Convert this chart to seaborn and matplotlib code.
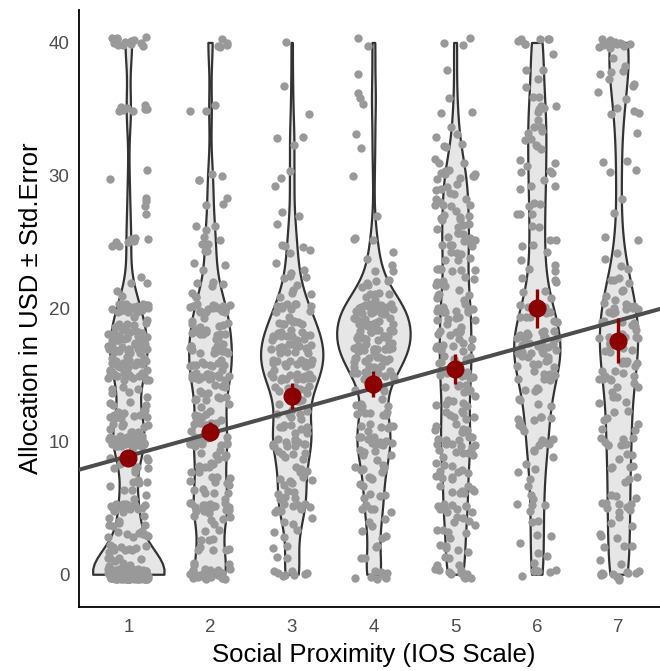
import numpy as np
import pandas as pd
import matplotlib
matplotlib.use("Agg")
import matplotlib.pyplot as plt
import seaborn as sns

# ---------------- data ----------------
ios_levels = [1, 2, 3, 4, 5, 6, 7]

g1_values = [0, 1, 2, 3, 4, 5, 6, 7, 8, 9, 10, 11, 12, 13, 14, 15, 16, 17, 18, 19, 20, 21, 22, 25, 27, 28, 30, 35, 40]
g1_counts = [140, 8, 10, 9, 7, 22, 4, 5, 6, 5, 40, 10, 14, 5, 5, 22, 18, 24, 22, 8, 24, 2, 3, 8, 1, 3, 2, 9, 14]

g2_values = [0, 1, 2, 3, 4, 5, 6, 7, 8, 9, 10, 11, 12, 13, 14, 15, 16, 17, 18, 19, 20, 21, 22, 23, 24, 25, 26, 28, 30, 35, 40]
g2_counts = [28, 3, 5, 5, 5, 20, 6, 7, 8, 6, 16, 7, 7, 8, 7, 16, 10, 14, 12, 7, 16, 3, 4, 3, 2, 5, 3, 3, 4, 3, 5]

g3_values = [0, 1, 2, 3, 4, 5, 6, 7, 8, 9, 10, 11, 12, 13, 14, 15, 16, 17, 18, 19, 20, 21, 22, 23, 24, 25, 26, 27, 29, 30, 32, 33, 35, 37, 40]
g3_counts = [8, 2, 2, 3, 3, 9, 6, 6, 6, 6, 13, 8, 7, 7, 8, 16, 14, 16, 14, 9, 10, 4, 4, 3, 2, 3, 1, 2, 1, 2, 1, 2, 1, 1, 1]

g4_values = [0, 1, 2, 3, 4, 5, 6, 7, 8, 9, 10, 11, 12, 13, 14, 15, 16, 17, 18, 19, 20, 21, 22, 23, 24, 25, 27, 30, 32, 33, 35, 36, 38, 40]
g4_counts = [9, 2, 2, 3, 3, 6, 4, 5, 6, 6, 12, 7, 7, 5, 4, 12, 14, 20, 20, 14, 24, 6, 6, 3, 2, 3, 1, 1, 1, 1, 1, 2, 1, 2]

g5_values = [0, 1, 2, 3, 4, 5, 6, 7, 8, 9, 10, 11, 12, 13, 14, 15, 16, 17, 18, 19, 20, 21, 22, 23, 24, 25, 26, 27, 28, 29, 30, 31, 32, 33, 34, 35, 36, 38, 40]
g5_counts = [11, 4, 5, 5, 5, 10, 6, 6, 7, 7, 12, 7, 7, 7, 7, 11, 8, 9, 9, 7, 12, 6, 7, 6, 6, 10, 7, 7, 7, 6, 10, 3, 3, 2, 1, 2, 1, 1, 3]

g6_values = [0, 1, 2, 3, 4, 5, 6, 7, 8, 9, 10, 11, 12, 13, 14, 15, 16, 17, 18, 19, 20, 21, 22, 23, 24, 25, 26, 27, 28, 29, 30, 31, 32, 33, 34, 35, 36, 37, 38, 39, 40]
g6_counts = [6, 2, 2, 2, 2, 4, 2, 2, 3, 3, 6, 4, 5, 4, 4, 9, 9, 12, 12, 6, 7, 3, 3, 3, 2, 4, 2, 3, 3, 3, 4, 3, 3, 4, 3, 5, 2, 2, 2, 1, 7]

g7_values = [0, 1, 2, 3, 4, 5, 6, 7, 8, 9, 10, 11, 12, 13, 14, 15, 16, 17, 18, 19, 20, 21, 22, 23, 24, 25, 27, 28, 30, 31, 33, 35, 36, 37, 38, 39, 40]
g7_counts = [12, 2, 3, 3, 3, 8, 3, 3, 4, 3, 9, 3, 4, 4, 4, 9, 6, 8, 8, 6, 12, 4, 4, 2, 2, 2, 1, 1, 2, 2, 1, 4, 2, 3, 4, 1, 14]

group_values = [g1_values, g2_values, g3_values, g4_values, g5_values, g6_values, g7_values]
group_counts = [g1_counts, g2_counts, g3_counts, g4_counts, g5_counts, g6_counts, g7_counts]

mean_alloc = [8.77, 10.73, 13.42, 14.30, 15.43, 20.00, 17.58]
se_alloc = [0.45, 0.73, 0.97, 1.00, 1.10, 1.45, 1.70]

reg_intercept = 7.19
reg_slope = 1.70

# ---------------- build long table ----------------
rows_x, rows_y = [], []
for lvl, vals, cnts in zip(ios_levels, group_values, group_counts):
    v = np.repeat(vals, cnts)
    rows_x.append(np.full(len(v), lvl))
    rows_y.append(v)
df = pd.DataFrame({"ios": np.concatenate(rows_x), "alloc": np.concatenate(rows_y).astype(float)})

# vertical display jitter (as in geom_jitter); horizontal jitter done by stripplot
np.random.seed(7)
rng = np.random.default_rng(11)
df["alloc_jit"] = df["alloc"] + rng.uniform(-0.4, 0.4, len(df))

# ---------------- figure ----------------
sns.set_style("white")
plt.rcParams["font.family"] = ["Liberation Sans", "DejaVu Sans"]

fig = plt.figure(figsize=(6.6, 6.71), dpi=100)
ax = fig.add_axes([79.3 / 660, 64.3 / 671, (667.5 - 79.3) / 660, (606.7 - 10.0) / 671])

sns.violinplot(data=df, x="ios", y="alloc", native_scale=True, density_norm="area",
               cut=0, bw_method="silverman", bw_adjust=0.55, inner=None,
               color="#E6E6E6", saturation=1, linecolor="#333333", linewidth=1.6,
               width=0.9, ax=ax, zorder=1)

sns.stripplot(data=df, x="ios", y="alloc_jit", native_scale=True, jitter=0.25,
              color="#999999", size=6, linewidth=0, ax=ax, zorder=3)

ax.axline((0, reg_intercept), slope=reg_slope, color="#4D4D4D", lw=2.9, zorder=4)

ax.errorbar(ios_levels, mean_alloc, yerr=se_alloc, fmt="o", color="#8B0000",
            ms=12, elinewidth=2.4, capsize=0, zorder=5)

ax.set_xlim(0.4, 7.6)
ax.set_ylim(-2.44, 42.44)
ax.set_xticks(ios_levels)
ax.set_xticklabels([str(v) for v in ios_levels])
ax.set_yticks([0, 10, 20, 30, 40])
ax.set_yticklabels(["0", "10", "20", "30", "40"])

for s in ["top", "right"]:
    ax.spines[s].set_visible(False)
for s in ["left", "bottom"]:
    ax.spines[s].set_color("black")
    ax.spines[s].set_linewidth(1.3)

ax.tick_params(axis="both", direction="out", length=4, width=1, color="#333333",
               labelcolor="#4D4D4D", labelsize=13.5, pad=3)
ax.tick_params(axis="x", pad=5)
ax.set_xlabel("Social Proximity (IOS Scale)", fontsize=18.5, color="black", labelpad=5)
ax.set_ylabel("Allocation in USD ± Std.Error", fontsize=18.5, color="black", labelpad=4)

fig.savefig("out.png", dpi=100)
